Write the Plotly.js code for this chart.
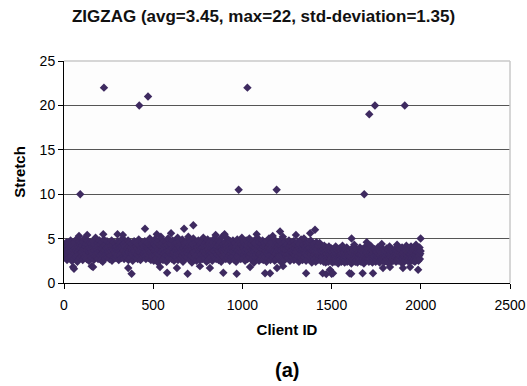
<!DOCTYPE html>
<html>
<head>
<meta charset="utf-8">
<script src="https://cdn.plot.ly/plotly-3.0.1.min.js"></script>
<style>html,body{margin:0;padding:0;background:#fff;}#chart{width:527px;height:386px;}</style>
</head>
<body>
<div id="chart"></div>
<script>
// Stretch of a sample of clients (every other client ID), by block of 500 IDs
const stretchBlockA = [ // clients 1..499
3.6,4.1,3.2,2.8,4.4,3.9,3.3,4.6,2.6,3.7,4.2,3.1,3.8,4.5,2.9,3.5,4.0,3.4,4.8,3.0,3.6,2.5,4.3,3.9,3.2,
4.1,3.7,2.7,4.6,3.3,3.9,4.4,2.9,3.6,4.9,3.1,3.8,2.4,4.2,3.5,4.0,3.2,4.7,3.7,2.8,4.3,3.4,3.9,4.5,3.0,
3.5,4.2,2.6,3.8,4.6,3.2,3.9,5.0,2.9,3.6,4.1,3.3,4.4,2.7,3.7,4.8,3.1,3.9,4.3,2.5,3.6,4.0,3.4,4.6,3.0,
3.8,4.4,2.8,3.5,4.1,3.2,4.7,3.9,2.6,3.7,4.3,3.0,3.6,5.1,3.3,4.0,2.9,3.8,4.5,3.4,2.7,4.2,3.6,3.9,4.8,
3.1,3.7,4.3,2.6,3.9,4.6,3.3,3.8,2.4,4.1,3.5,4.9,3.0,3.7,4.2,2.8,3.6,4.4,3.2,3.9,4.7,2.9,3.5,4.1,3.3,
4.0,3.4,2.7,4.5,3.8,3.1,4.2,3.6,4.8,2.5,3.9,4.3,3.2,3.7,4.6,2.9,3.5,4.0,3.3,4.4,2.8,3.8,4.1,3.0,3.6,
4.7,3.2,3.9,2.6,4.3,3.6,4.0,3.1,4.5,3.7,2.8,4.2,3.4,3.9,5.0,3.0,3.6,4.4,2.7,3.8,4.1,3.3,4.6,3.5,2.9,
3.7,4.3,3.1,3.9,4.8,2.6,3.5,4.1,3.3,4.6,3.8,2.9,4.0,3.4,4.4,3.2,3.7,2.5,4.2,3.9,3.1,4.7,3.6,4.0,3.3,
2.8,4.1,3.6,4.5,3.2,3.9,2.7,4.3,3.5,4.9,3.0,3.7,4.2,3.4,2.6,4.0,3.8,4.6,3.1,3.6,4.4,2.9,3.9,3.3,4.1,
3.5,4.7,3.0,3.8,2.7,4.2,3.6,4.0,3.2,4.5,3.9,2.8,3.7,4.3,3.1,5.0,3.4,3.8,2.6,4.1,3.6,4.4,3.0,3.9,4.6];
const stretchBlockB = [ // clients 501..999
3.9,2.5,4.4,3.6,4.9,3.1,3.8,4.2,2.8,3.5,4.6,3.3,4.0,2.3,3.7,4.8,3.2,3.9,4.3,2.7,3.6,5.2,3.4,4.1,3.0,
4.5,3.7,2.6,4.0,3.3,4.7,3.8,2.9,4.2,3.5,3.1,4.6,2.4,3.9,4.3,3.6,5.0,3.0,3.7,4.1,2.8,3.4,4.4,3.8,3.2,
3.6,4.3,2.7,3.9,4.8,3.2,3.5,4.1,2.5,3.8,4.5,3.0,4.0,3.7,2.9,4.6,3.3,3.9,5.1,2.6,3.6,4.2,3.4,4.7,3.1,
4.0,3.5,2.8,4.4,3.8,3.1,4.9,3.6,2.4,4.1,3.9,3.3,4.5,2.7,3.7,4.2,3.0,3.8,4.6,3.4,2.9,4.0,3.6,5.2,3.2,
3.7,4.3,2.6,3.9,4.7,3.1,3.6,4.1,2.3,3.8,4.4,3.4,5.0,2.8,3.5,4.2,3.2,3.9,4.6,3.0,3.7,2.5,4.3,3.6,4.0,
3.3,4.8,2.9,3.7,4.1,3.5,2.6,4.4,3.9,3.2,4.6,3.8,2.7,4.0,3.4,5.1,3.1,3.6,4.3,2.8,3.9,4.5,3.3,3.7,2.4,
4.2,3.6,4.9,3.0,3.8,2.6,4.4,3.5,4.0,3.2,4.7,2.9,3.9,4.3,3.4,2.5,3.7,4.6,3.1,4.1,3.6,5.0,2.8,3.8,4.2,
3.5,2.7,4.5,3.9,3.2,4.1,3.7,4.8,2.6,3.6,4.3,3.0,3.9,4.6,3.3,2.4,4.0,3.7,5.2,3.1,3.8,4.4,2.9,3.5,4.1,
3.8,4.6,3.2,2.7,4.2,3.6,3.9,5.0,2.8,3.4,4.4,3.7,3.1,4.1,2.5,3.9,4.7,3.3,3.6,4.3,2.9,4.0,3.5,4.8,3.0,
3.7,4.2,2.6,3.9,4.5,3.3,3.8,2.4,4.1,3.6,4.9,3.0,3.7,4.4,3.2,2.8,4.0,3.5,4.6,3.9,2.7,4.3,3.4,5.1,3.6];
const stretchBlockC = [ // clients 1001..1499
3.6,4.1,2.8,3.9,4.6,3.2,3.7,2.5,4.3,3.5,4.8,3.0,3.8,4.2,2.7,3.4,4.5,3.6,3.1,5.0,2.9,3.9,4.0,3.3,4.4,
3.7,2.6,4.2,3.5,4.7,3.1,3.8,2.3,4.0,3.6,4.5,2.9,3.9,3.2,4.3,3.7,5.1,2.8,3.4,4.1,3.6,2.5,4.6,3.3,3.9,
4.0,3.4,2.7,4.4,3.8,3.0,4.8,3.5,2.6,4.1,3.7,3.2,4.5,2.9,3.6,4.2,3.9,2.4,4.7,3.3,3.8,4.0,2.8,3.5,5.0,
3.1,4.3,3.7,2.6,3.9,4.6,3.2,3.6,4.1,2.8,3.8,4.4,3.0,3.5,4.9,2.5,3.7,4.2,3.3,3.9,2.7,4.5,3.6,4.0,3.1,
3.8,2.9,4.3,3.5,4.7,3.1,3.7,2.4,4.1,3.6,4.4,3.2,3.9,5.2,2.7,3.4,4.0,3.8,2.6,4.6,3.3,3.7,4.2,3.0,3.9,
4.4,3.2,2.8,4.0,3.6,4.8,3.3,3.9,2.5,4.2,3.5,3.0,4.5,3.7,2.9,4.1,3.4,3.8,4.7,2.6,3.6,4.3,3.1,3.9,4.0,
3.5,2.7,4.2,3.8,4.6,3.0,3.6,4.1,2.4,3.9,4.4,3.3,3.7,2.8,4.9,3.2,3.6,4.0,2.6,3.8,4.3,3.4,5.0,2.9,3.7,
4.1,3.3,3.9,2.5,4.5,3.6,3.1,4.2,3.8,2.7,4.6,3.4,3.9,4.0,2.9,3.5,4.8,3.2,3.7,2.3,4.3,3.6,4.1,3.0,3.8,
3.2,4.4,2.7,3.6,4.0,2.4,3.3,4.6,2.9,3.5,3.9,2.6,4.2,3.1,3.4,2.8,4.5,3.0,3.7,2.5,3.3,4.1,2.9,3.6,2.7,
3.0,3.8,2.4,3.4,4.2,2.7,3.1,3.6,2.3,4.0,2.9,3.3,2.6,3.7,3.0,2.4,3.5,4.1,2.8,3.2,2.5,3.6,3.0,2.7,3.9];
const stretchBlockD = [ // clients 1501..1999
2.9,3.4,2.3,3.1,3.8,2.6,3.2,2.8,3.6,2.4,3.0,4.1,2.7,3.3,2.5,3.7,2.9,3.1,2.2,3.5,2.8,3.9,2.6,3.2,3.0,
2.7,3.6,2.4,3.3,2.9,4.2,2.5,3.1,3.7,2.8,3.4,2.3,3.0,3.8,2.6,3.2,2.9,4.0,2.4,3.5,2.7,3.1,3.6,2.5,3.3,
3.0,2.6,3.7,2.8,3.4,2.2,3.1,3.9,2.7,3.3,2.5,3.6,3.0,4.3,2.8,3.2,2.4,3.5,2.9,3.8,2.6,3.1,2.3,3.4,3.0,
2.8,3.5,2.5,3.2,4.0,2.7,3.3,2.4,3.6,2.9,3.1,2.6,3.8,2.8,3.4,2.2,3.0,3.7,2.5,3.2,4.1,2.7,3.5,2.9,3.3,
2.6,3.9,2.8,3.1,2.4,3.6,3.0,2.7,3.4,4.2,2.5,3.2,2.9,3.7,2.3,3.3,2.8,3.5,3.0,2.6,3.8,2.9,3.1,2.4,3.6,
3.2,2.7,3.5,2.9,4.0,2.5,3.3,2.8,3.7,2.3,3.1,3.6,2.6,3.4,2.9,4.4,2.7,3.2,2.5,3.8,3.0,2.8,3.5,2.4,3.3,
2.9,3.6,2.5,3.1,3.9,2.7,3.4,2.3,3.0,3.7,2.8,3.2,4.1,2.6,3.5,2.9,3.3,2.4,3.8,3.1,2.7,3.6,2.5,3.0,3.4,
3.1,2.6,3.8,2.9,3.3,2.4,3.6,3.0,4.3,2.7,3.2,2.5,3.5,2.8,3.9,3.1,2.6,3.4,2.9,3.7,2.3,3.2,4.0,2.8,3.3,
2.7,3.5,3.0,2.4,3.8,2.9,3.2,2.6,3.6,4.2,2.8,3.1,2.5,3.4,3.0,3.9,2.7,3.3,2.4,3.6,2.9,3.2,4.1,2.6,3.5,
3.0,2.8,3.7,2.5,3.3,3.9,2.7,3.1,2.4,3.6,2.9,4.3,3.2,2.6,3.5,2.8,3.8,3.0,2.5,3.4,3.1,4.0,2.7,3.3,3.6];
const blockFirstIds = [1, 501, 1001, 1501];

// Clients with unusually low / high stretch near the band
const edgeIds = [56,155,360,379,578,693,893,968,1127,1155,1357,1450,1470,1491,1500,1508,1600,1610,1674,1732,1985,
  51,163,538,633,762,818,1043,1194,1228,1788,1827,1900,1940,
  84,220,454,673,725,1170,1211,1407,1612,1697,1999,130,300,330,520,600,850,900,1080,1300,1380];
const edgeStretch = [1.6,1.9,1.7,1.05,1.15,1.05,1.15,1.05,1.1,1.1,1.1,1.1,1.0,1.5,1.05,1.1,1.1,1.05,1.1,1.1,1.5,
  1.8,1.8,1.8,1.7,1.9,1.7,1.8,1.7,1.9,1.7,1.8,1.7,1.8,
  5.3,5.5,6.1,6.1,6.5,5.3,5.8,6.0,5.0,4.6,5.0,5.4,5.5,5.4,5.5,5.6,5.4,5.5,5.5,5.4,5.6];

// Far outliers
const outlierIds = [91,224,422,471,979,1028,1192,1683,1711,1743,1910];
const outlierStretch = [10,22,20,21,10.5,22,10.5,10,19,20,20];

const titleText = 'ZIGZAG (avg=3.45, max=22, std-deviation=1.35)';
const xTitle = 'Client ID';
const yTitle = 'Stretch';
const subLabel = '(a)';

const xs = [], ys = [];
[stretchBlockA, stretchBlockB, stretchBlockC, stretchBlockD].forEach((blk, b) => {
  blk.forEach((v, i) => { xs.push(blockFirstIds[b] + 2 * i); ys.push(v); });
});
edgeIds.forEach((id, i) => { xs.push(id); ys.push(edgeStretch[i]); });
outlierIds.forEach((id, i) => { xs.push(id); ys.push(outlierStretch[i]); });

const markColor = '#3e2a60';
const trace = {
  x: xs, y: ys, type: 'scatter', mode: 'markers',
  marker: {symbol: 'diamond', size: 6.5, color: markColor, line: {width: 0}},
  hoverinfo: 'skip'
};

const font = 'Arial, "Liberation Sans", sans-serif';
const layout = {
  width: 527, height: 386,
  margin: {l: 64, r: 17, t: 61, b: 103},
  paper_bgcolor: '#ffffff', plot_bgcolor: '#fdfdfd',
  showlegend: false,
  font: {family: font, color: '#000', size: 14},
  title: {text: '<b>' + titleText + '</b>', font: {family: font, size: 17, color: '#111'},
          x: 0.5, xref: 'container', y: 0.9585, yref: 'container', yanchor: 'middle'},
  xaxis: {
    range: [0, 2500], tickvals: [0,500,1000,1500,2000,2500], ticks: 'outside', ticklen: 5,
    tickcolor: '#000', showline: true, linecolor: '#000', linewidth: 1, showgrid: false,
    zeroline: false, tickfont: {size: 14, color: '#000'}, ticklabelstandoff: 4,
    title: {text: '<b>' + xTitle + '</b>', font: {size: 15, color: '#000'}, standoff: 12}
  },
  yaxis: {
    range: [0, 25], tickvals: [0,5,10,15,20,25], ticks: 'outside', ticklen: 5,
    tickcolor: '#000', showline: true, linecolor: '#000', linewidth: 1,
    showgrid: true, gridcolor: '#555555', gridwidth: 1.3, zeroline: false,
    tickfont: {size: 14, color: '#000'},
    title: {text: '<b>' + yTitle + '</b>', font: {size: 15, color: '#000'}, standoff: 10}
  },
  shapes: [
    {type: 'line', xref: 'paper', yref: 'paper', x0: 0, x1: 1, y0: 1, y1: 1, line: {color: '#c8c8c8', width: 1.5}},
    {type: 'line', xref: 'paper', yref: 'paper', x0: 1, x1: 1, y0: 0, y1: 1, line: {color: '#c8c8c8', width: 1.5}}
  ],
  annotations: [
    {text: '<b>' + subLabel + '</b>', xref: 'paper', yref: 'paper', x: 0.5, y: -0.39,
     xanchor: 'center', yanchor: 'middle', showarrow: false, font: {size: 20, color: '#000'}}
  ]
};

Plotly.newPlot('chart', [trace], layout, {displayModeBar: false, staticPlot: true});
</script>
</body>
</html>
